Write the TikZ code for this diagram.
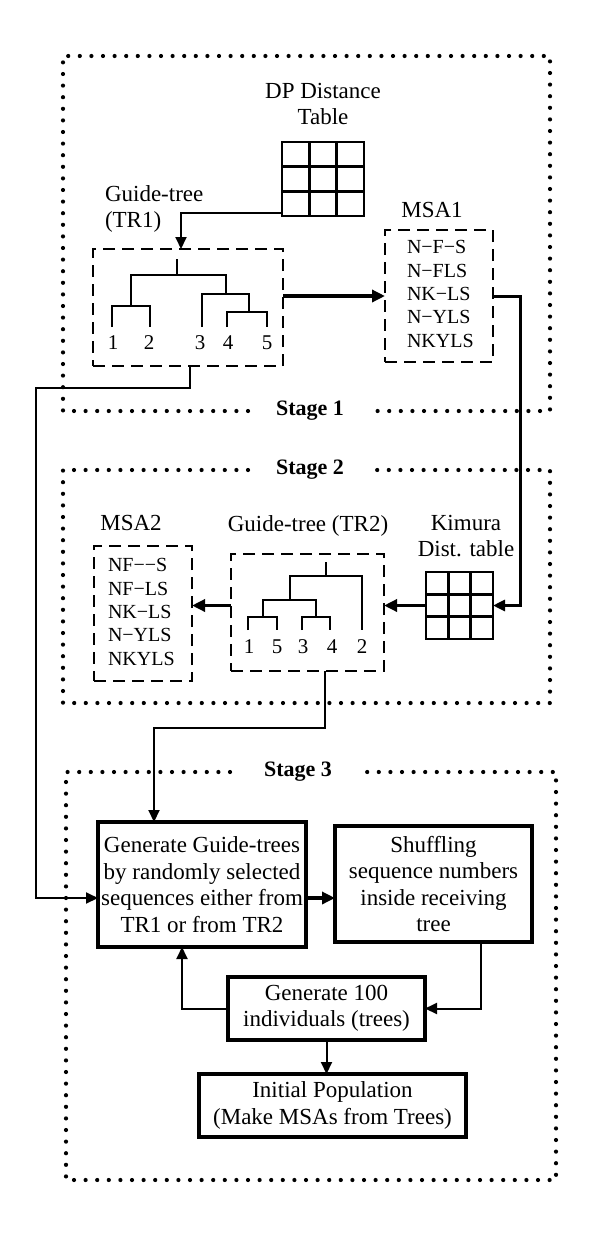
\documentclass[tikz,border=0pt]{standalone}
\usepackage{fontspec}
\setmainfont{Liberation Serif}
\usetikzlibrary{arrows.meta,calc}
\begin{document}
\begin{tikzpicture}[x=1pt,y=-1pt,
  every node/.style={inner sep=0pt, outer sep=0pt, font=\fontsize{23}{26}\selectfont},
  conn/.style={line width=2pt},
  arr/.style={line width=2pt,-{Triangle[length=12pt,width=11pt]}},
  medarr/.style={line width=3pt,-{Triangle[length=12pt,width=11pt]}},
  thickarr/.style={line width=3.5pt,-{Triangle[length=13pt,width=12pt]}},
  dbox/.style={draw,line width=2.5pt,dash pattern=on 12pt off 7pt},
  sbox/.style={draw,line width=3.5pt,align=center,font=\fontsize{23}{26.5}\selectfont},
  stagefr/.style={line width=4.2pt,dash pattern=on 0pt off 11.6pt,line cap=round},
  stagelbl/.style={font=\bfseries\fontsize{22}{26}\selectfont},
  gridbox/.style={draw,line width=2.5pt},
  gridline/.style={line width=2.5pt},
  treeline/.style={line width=2.5pt},
  msatxt/.style={font=\fontsize{20}{23.3}\selectfont,align=left},
  leaf/.style={font=\fontsize{21}{24}\selectfont}
]
\useasboundingbox (0,0) rectangle (600,1247);

% ---------- Stage frames ----------
\draw[stagefr] (248,411) -- (63,411) -- (63,56) -- (550,56) -- (550,411) -- (373,411);
\node[stagelbl] (s1) at (310,411) {Stage 1};
\draw[stagefr] (248,470) -- (63,470) -- (63,703) -- (550,703) -- (550,470) -- (373,470);
\node[stagelbl] (s2) at (310,470) {Stage 2};
\draw[stagefr] (230,772) -- (66,772) -- (66,1180) -- (556,1180) -- (556,772) -- (367,772);
\node[stagelbl] (s3) at (298,772) {Stage 3};

% ---------- Stage 1 ----------
\node[align=center,font=\fontsize{23}{26}\selectfont] (dplbl) at (323,104) {DP Distance\\Table};
\node[gridbox,minimum width=82pt,minimum height=74pt] (dpgrid) at (323,179) {};
\foreach \f in {0.3333,0.6667}{
  \draw[gridline] ($(dpgrid.north west)!\f!(dpgrid.north east)$) -- ($(dpgrid.south west)!\f!(dpgrid.south east)$);
  \draw[gridline] ($(dpgrid.north west)!\f!(dpgrid.south west)$) -- ($(dpgrid.north east)!\f!(dpgrid.south east)$);
}
\node[align=left,anchor=west] (tr1lbl) at (105,208.5) {Guide-tree\\(TR1)};
\node[dbox,minimum width=190pt,minimum height=117pt] (tr1box) at (188,307.5) {};
% tree TR1
\draw[treeline] (177,259) -- (177,275);
\draw[treeline] (131,306) -- (131,275) -- (226,275) -- (226,294);
\draw[treeline] (112,327) -- (112,306) -- (150,306) -- (150,327);
\draw[treeline] (202,327) -- (202,294) -- (249,294) -- (249,312);
\draw[treeline] (227,327) -- (227,312) -- (267,312) -- (267,327);
\node[leaf] (a1) at (113,343) {1};
\node[leaf] (a2) at (149,343) {2};
\node[leaf] (a3) at (200,343) {3};
\node[leaf] (a4) at (228,343) {4};
\node[leaf] (a5) at (267,343) {5};

\node (msa1lbl) at (432,210) {MSA1};
\node[dbox,minimum width=108pt,minimum height=132pt] (msa1box) at (439,296) {};
\node[msatxt,anchor=west] (msa1txt) at (407,294) {N−F−S\\N−FLS\\NK−LS\\N−YLS\\NKYLS};

% ---------- Stage 2 ----------
\node (msa2lbl) at (131,523) {MSA2};
\node[dbox,minimum width=98pt,minimum height=135pt] (msa2box) at (143,613.5) {};
\node[msatxt,anchor=west] (msa2txt) at (108,612) {NF−−S\\NF−LS\\NK−LS\\N−YLS\\NKYLS};

\node (tr2lbl) at (308,526) {Guide-tree (TR2)};
\node[dbox,minimum width=153pt,minimum height=117pt] (tr2box) at (307.5,612.5) {};
% tree TR2
\draw[treeline] (326,562) -- (326,576);
\draw[treeline] (290,600) -- (290,576) -- (362,576) -- (362,630);
\draw[treeline] (263,617) -- (263,600) -- (316,600) -- (316,617);
\draw[treeline] (248,630) -- (248,617) -- (277,617) -- (277,630);
\draw[treeline] (302,630) -- (302,617) -- (330,617) -- (330,630);
\node[leaf] (b1) at (249,647) {1};
\node[leaf] (b5) at (277,647) {5};
\node[leaf] (b3) at (303,647) {3};
\node[leaf] (b4) at (332,647) {4};
\node[leaf] (b2) at (362,647) {2};

\node[align=center] (kimlbl) at (466,536.5) {Kimura\\Dist. table};
\node[gridbox,minimum width=67pt,minimum height=67pt] (kgrid) at (459.5,605.5) {};
\foreach \f in {0.3333,0.6667}{
  \draw[gridline] ($(kgrid.north west)!\f!(kgrid.north east)$) -- ($(kgrid.south west)!\f!(kgrid.south east)$);
  \draw[gridline] ($(kgrid.north west)!\f!(kgrid.south west)$) -- ($(kgrid.north east)!\f!(kgrid.south east)$);
}

% ---------- Stage 3 ----------
\node[sbox,minimum width=208pt,minimum height=125pt] (gen) at (202,884.5)
  {Generate Guide-trees\\by randomly selected\\sequences either from\\TR1 or from TR2};
\node[sbox,minimum width=197pt,minimum height=116pt] (shuf) at (433.5,884)
  {Shuffling\\sequence numbers\\inside receiving\\tree};
\node[sbox,minimum width=197pt,minimum height=63pt] (g100) at (326.5,1008.5)
  {Generate 100\\individuals (trees)};
\node[sbox,minimum width=267pt,minimum height=63pt] (init) at (332.5,1105.5)
  {Initial Population\\(Make MSAs from Trees)};

\coordinate (lk) at (36,898);

% ---------- Connectors ----------
\draw[arr] ($(dpgrid.south west)+(0,-3)$) -| ([xshift=-7pt]tr1box.north);
\draw[thickarr] (tr1box.east |- msa1box.west) -- (msa1box.west);
\draw[medarr] (msa1box.east) -- ++(27,0) |- (kgrid.east);
\draw[thickarr] (kgrid.west) -- (kgrid.west -| tr2box.east);
\draw[thickarr] (tr2box.west |- kgrid.west) -- (msa2box.east |- kgrid.west);
\draw[arr] ([xshift=2pt]tr1box.south) -- ++(0,22) -| (lk) -- (gen.west |- lk);
\draw[arr] ([xshift=17pt]tr2box.south) -- ++(0,57) -| ([xshift=-48pt]gen.north);
\draw[thickarr] (gen.east |- lk) -- (shuf.west |- lk);
\draw[arr] ([xshift=47.5pt]shuf.south) |- (g100.east);
\draw[arr] (g100.west) -| ([xshift=-20pt]gen.south);
\draw[arr] (g100.south) -- (g100.south |- init.north);
\end{tikzpicture}
\end{document}
